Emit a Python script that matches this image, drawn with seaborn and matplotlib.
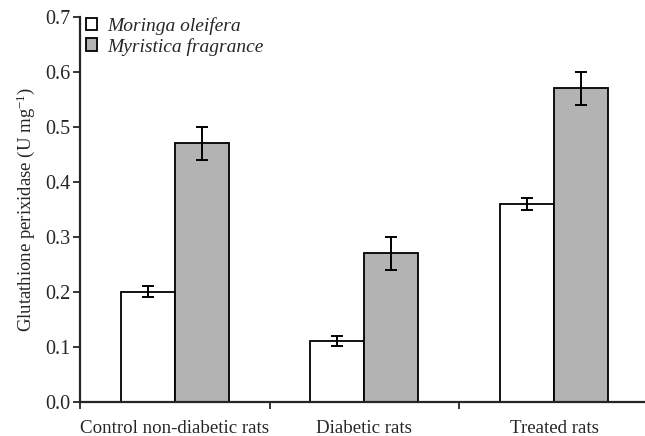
import matplotlib
matplotlib.use('Agg')
import matplotlib.pyplot as plt
import pandas as pd
import seaborn as sns

# data
groups = ['Control non-diabetic rats', 'Diabetic rats', 'Treated rats']
species = ['Moringa oleifera', 'Myristica fragrance']
moringa = [0.20, 0.11, 0.36]
moringa_err = [0.010, 0.009, 0.011]
myristica = [0.47, 0.27, 0.57]
myristica_err = [0.030, 0.030, 0.030]

df = pd.DataFrame({
    'group': groups * 2,
    'species': [species[0]] * 3 + [species[1]] * 3,
    'value': moringa + myristica,
})
errs = moringa_err + myristica_err

sns.set_style('ticks')
plt.rcParams['font.family'] = ['Liberation Serif', 'DejaVu Serif']
plt.rcParams['mathtext.fontset'] = 'custom'
plt.rcParams['mathtext.rm'] = 'Liberation Serif'
plt.rcParams['mathtext.it'] = 'Liberation Serif:italic'

fig = plt.figure(figsize=(6.45, 4.36), dpi=100)
ax = fig.add_axes([80 / 645, 1 - 401.7 / 436, 1 - 80 / 645, (401.7 - 16.7) / 436])

sns.barplot(data=df, x='group', y='value', hue='species', order=groups,
            hue_order=species, palette=['white', '#b3b3b3'], errorbar=None,
            width=0.57, gap=0, edgecolor='black', linewidth=1.3, ax=ax)

# error bars at bar centres
bars = [p for p in ax.patches if p.get_height() > 0]
for p, e in zip(bars, errs):
    ax.errorbar(p.get_x() + p.get_width() / 2, p.get_height(), yerr=e,
                fmt='none', ecolor='black', elinewidth=1.4, capsize=4, capthick=1.4)

ax.set_xlim(-0.5, 2.48)
ax.set_ylim(0, 0.7)
ax.set_yticks([0.0, 0.1, 0.2, 0.3, 0.4, 0.5, 0.6, 0.7])
ax.set_yticklabels(['0.0', '0.1', '0.2', '0.3', '0.4', '0.5', '0.6', '0.7'])
ax.set_xticks([-0.5, 0.5, 1.5], minor=True)
ax.tick_params(axis='x', which='major', length=0, pad=13, labelsize=13.6)
ax.tick_params(axis='x', which='minor', length=5, width=1.3, direction='out')
ax.tick_params(axis='y', length=5, width=1.3, labelsize=14.5, pad=2)
ax.set_xlabel('')
ax.set_ylabel('Glutathione perixidase (U mg$^{-1}$)', fontsize=13.5, labelpad=6)

for s in ['top', 'right']:
    ax.spines[s].set_visible(False)
for s in ['left', 'bottom']:
    ax.spines[s].set_linewidth(1.6)

leg = ax.legend(loc='upper left', bbox_to_anchor=(-0.014, 1.035), frameon=False,
                prop={'style': 'italic', 'size': 14}, handlelength=0.6,
                handleheight=0.6, handletextpad=0.5, labelspacing=0.15,
                borderaxespad=0.3)
for h in leg.legend_handles:
    h.set_edgecolor('black')
    h.set_linewidth(1.3)

fig.savefig('out.png', dpi=100)
